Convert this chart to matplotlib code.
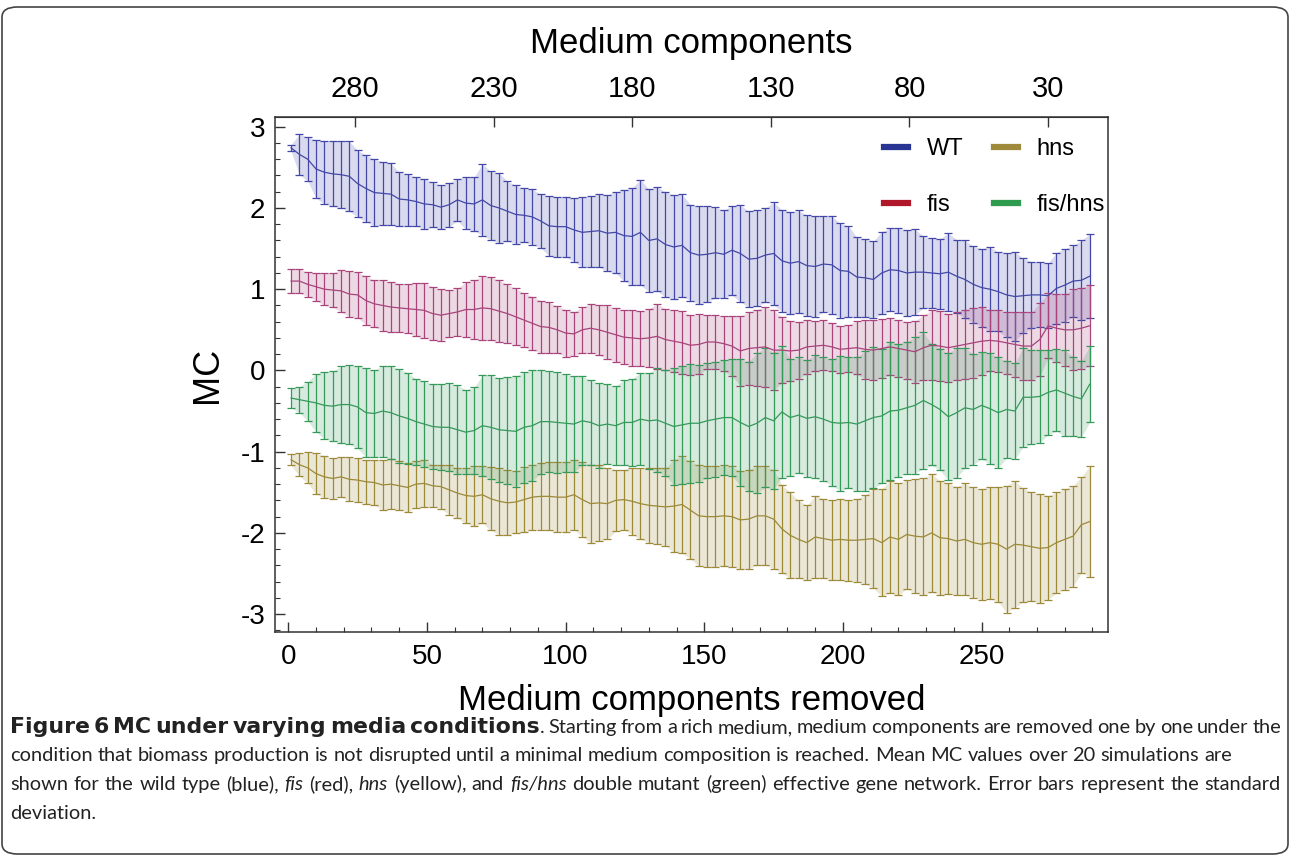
import matplotlib
matplotlib.use('Agg')
import matplotlib.pyplot as plt
from matplotlib.lines import Line2D
from matplotlib.patches import FancyBboxPatch
from matplotlib.ticker import MultipleLocator, NullLocator

plt.rcParams['font.family'] = ['Liberation Sans', 'DejaVu Sans']
plt.rcParams['axes.unicode_minus'] = False

# medium components removed (every third step)
removed = list(range(1, 290, 3))

wt_mean = [2.74, 2.66, 2.60, 2.48, 2.44, 2.42, 2.41, 2.39, 2.30, 2.24, 2.19, 2.18, 2.17, 2.11, 2.10, 2.08, 2.05,
           2.04, 2.01, 2.04, 2.10, 2.06, 2.05, 2.10, 2.03, 2.00, 1.96, 1.92, 1.91, 1.89, 1.84, 1.78, 1.77, 1.77,
           1.73, 1.70, 1.71, 1.72, 1.69, 1.70, 1.66, 1.65, 1.70, 1.60, 1.62, 1.55, 1.52, 1.54, 1.45, 1.42,
           1.43, 1.45, 1.43, 1.48, 1.44, 1.37, 1.38, 1.42, 1.44, 1.35, 1.32, 1.34, 1.29, 1.28, 1.31, 1.30, 1.23,
           1.22, 1.15, 1.14, 1.12, 1.20, 1.24, 1.23, 1.20, 1.21, 1.21, 1.20, 1.19, 1.21, 1.16, 1.12, 1.06, 1.02,
           1.00, 0.97, 0.93, 0.91, 0.92, 0.93, 0.93, 0.92, 1.01, 1.05, 1.10, 1.11, 1.16]
wt_std = [0.04, 0.25, 0.27, 0.36, 0.39, 0.40, 0.41, 0.43, 0.41, 0.41, 0.41, 0.39, 0.38, 0.33, 0.32, 0.30, 0.31,
          0.28, 0.27, 0.27, 0.26, 0.32, 0.33, 0.44, 0.42, 0.43, 0.37, 0.36, 0.33, 0.34, 0.33, 0.37, 0.37, 0.37,
          0.39, 0.43, 0.44, 0.45, 0.47, 0.50, 0.56, 0.60, 0.65, 0.63, 0.64, 0.65, 0.64, 0.63, 0.59, 0.60,
          0.59, 0.56, 0.54, 0.55, 0.60, 0.59, 0.59, 0.58, 0.63, 0.63, 0.63, 0.63, 0.62, 0.62, 0.59, 0.60, 0.58,
          0.56, 0.49, 0.48, 0.47, 0.51, 0.51, 0.52, 0.53, 0.53, 0.44, 0.43, 0.43, 0.48, 0.45, 0.48, 0.47, 0.48,
          0.52, 0.49, 0.52, 0.55, 0.46, 0.41, 0.40, 0.40, 0.44, 0.45, 0.44, 0.49, 0.52]

fis_mean = [1.10, 1.10, 1.06, 1.03, 1.00, 0.99, 0.98, 0.94, 0.93, 0.86, 0.82, 0.80, 0.78, 0.77, 0.76, 0.75, 0.74,
            0.70, 0.68, 0.70, 0.72, 0.75, 0.75, 0.77, 0.76, 0.73, 0.70, 0.66, 0.62, 0.58, 0.54, 0.53, 0.50, 0.46,
            0.45, 0.50, 0.52, 0.50, 0.47, 0.44, 0.41, 0.40, 0.39, 0.40, 0.42, 0.38, 0.36, 0.34, 0.31, 0.32,
            0.35, 0.35, 0.33, 0.30, 0.24, 0.27, 0.28, 0.29, 0.25, 0.25, 0.24, 0.25, 0.29, 0.30, 0.31, 0.29, 0.26,
            0.27, 0.28, 0.26, 0.25, 0.27, 0.29, 0.27, 0.25, 0.23, 0.28, 0.31, 0.30, 0.28, 0.30, 0.32, 0.34, 0.36,
            0.37, 0.36, 0.34, 0.32, 0.30, 0.30, 0.38, 0.55, 0.52, 0.50, 0.50, 0.52, 0.55]
fis_std = [0.15, 0.15, 0.15, 0.17, 0.20, 0.21, 0.26, 0.28, 0.28, 0.30, 0.29, 0.31, 0.31, 0.30, 0.30, 0.33, 0.34,
           0.33, 0.32, 0.29, 0.29, 0.34, 0.36, 0.39, 0.39, 0.38, 0.36, 0.35, 0.33, 0.33, 0.32, 0.31, 0.29, 0.29,
           0.27, 0.28, 0.30, 0.31, 0.33, 0.33, 0.33, 0.34, 0.34, 0.36, 0.40, 0.38, 0.38, 0.39, 0.37, 0.37,
           0.33, 0.33, 0.34, 0.37, 0.43, 0.45, 0.47, 0.49, 0.49, 0.41, 0.37, 0.35, 0.33, 0.31, 0.31, 0.30, 0.29,
           0.29, 0.33, 0.36, 0.37, 0.36, 0.35, 0.35, 0.35, 0.38, 0.40, 0.43, 0.43, 0.42, 0.42, 0.43, 0.43, 0.42,
           0.38, 0.38, 0.38, 0.40, 0.42, 0.42, 0.45, 0.40, 0.42, 0.44, 0.50, 0.50, 0.50]

hns_mean = [-1.10, -1.16, -1.20, -1.27, -1.31, -1.33, -1.31, -1.34, -1.35, -1.37, -1.38, -1.41, -1.40, -1.42, -1.44, -1.40, -1.39,
            -1.42, -1.43, -1.47, -1.51, -1.54, -1.55, -1.53, -1.58, -1.61, -1.63, -1.62, -1.59, -1.56, -1.55, -1.55, -1.56, -1.56,
            -1.53, -1.59, -1.64, -1.63, -1.64, -1.60, -1.59, -1.61, -1.64, -1.66, -1.67, -1.68, -1.67, -1.65, -1.72, -1.79,
            -1.80, -1.80, -1.79, -1.80, -1.84, -1.83, -1.79, -1.79, -1.83, -1.95, -2.03, -2.08, -2.12, -2.05, -2.07, -2.09, -2.08,
            -2.09, -2.09, -2.08, -2.07, -2.12, -2.05, -2.08, -2.02, -2.04, -2.05, -2.00, -2.06, -2.07, -2.10, -2.08, -2.12, -2.14,
            -2.12, -2.14, -2.20, -2.14, -2.15, -2.17, -2.19, -2.18, -2.12, -2.08, -2.04, -1.90, -1.86]
hns_std = [0.07, 0.14, 0.19, 0.25, 0.26, 0.25, 0.25, 0.27, 0.27, 0.27, 0.28, 0.31, 0.31, 0.30, 0.30, 0.29, 0.29,
           0.26, 0.27, 0.31, 0.31, 0.34, 0.37, 0.35, 0.39, 0.41, 0.40, 0.38, 0.40, 0.40, 0.41, 0.42, 0.43, 0.43,
           0.43, 0.46, 0.48, 0.47, 0.44, 0.38, 0.37, 0.41, 0.44, 0.46, 0.47, 0.48, 0.57, 0.60, 0.60, 0.62,
           0.62, 0.62, 0.62, 0.62, 0.60, 0.61, 0.61, 0.61, 0.61, 0.54, 0.53, 0.48, 0.46, 0.51, 0.49, 0.49, 0.50,
           0.50, 0.51, 0.55, 0.61, 0.66, 0.69, 0.69, 0.67, 0.70, 0.72, 0.73, 0.70, 0.68, 0.67, 0.69, 0.68, 0.68,
           0.69, 0.71, 0.78, 0.78, 0.70, 0.67, 0.67, 0.64, 0.62, 0.62, 0.62, 0.59, 0.68]

fishns_mean = [-0.34, -0.36, -0.38, -0.40, -0.43, -0.44, -0.42, -0.42, -0.45, -0.52, -0.53, -0.50, -0.52, -0.56, -0.59, -0.63, -0.66,
               -0.69, -0.70, -0.70, -0.73, -0.76, -0.74, -0.68, -0.70, -0.73, -0.74, -0.75, -0.70, -0.68, -0.63, -0.63, -0.64, -0.65,
               -0.66, -0.62, -0.64, -0.68, -0.66, -0.68, -0.64, -0.64, -0.60, -0.62, -0.61, -0.65, -0.69, -0.67, -0.65, -0.65,
               -0.62, -0.60, -0.58, -0.58, -0.64, -0.69, -0.65, -0.58, -0.62, -0.51, -0.58, -0.55, -0.59, -0.57, -0.60, -0.64, -0.65,
               -0.64, -0.66, -0.62, -0.58, -0.56, -0.50, -0.49, -0.46, -0.43, -0.37, -0.42, -0.48, -0.57, -0.52, -0.46, -0.48, -0.43,
               -0.47, -0.52, -0.48, -0.50, -0.33, -0.33, -0.32, -0.27, -0.24, -0.28, -0.32, -0.35, -0.17]
fishns_std = [0.12, 0.16, 0.24, 0.36, 0.41, 0.43, 0.47, 0.49, 0.51, 0.55, 0.53, 0.56, 0.57, 0.58, 0.56, 0.53, 0.53,
              0.52, 0.53, 0.54, 0.55, 0.52, 0.53, 0.62, 0.64, 0.64, 0.66, 0.68, 0.68, 0.68, 0.64, 0.62, 0.62, 0.60,
              0.59, 0.55, 0.52, 0.52, 0.49, 0.49, 0.52, 0.54, 0.57, 0.59, 0.64, 0.65, 0.72, 0.73, 0.73, 0.72,
              0.71, 0.71, 0.71, 0.72, 0.78, 0.80, 0.86, 0.86, 0.84, 0.81, 0.72, 0.71, 0.72, 0.76, 0.76, 0.78, 0.83,
              0.81, 0.82, 0.86, 0.87, 0.83, 0.85, 0.82, 0.81, 0.84, 0.84, 0.75, 0.75, 0.78, 0.80, 0.74, 0.68, 0.66,
              0.68, 0.68, 0.60, 0.59, 0.61, 0.58, 0.57, 0.52, 0.51, 0.53, 0.49, 0.47, 0.47]

labels = ['WT', 'fis', 'hns', 'fis/hns']
bar_colors = ['#4347a8', '#a8437c', '#9c8a38', '#35995a']
legend_colors = ['#283593', '#b0182a', '#9e8a3a', '#2e9b4f']
top_ticks = [280, 230, 180, 130, 80, 30]
n_components = 304

W, H = 1290, 856
fig = plt.figure(figsize=(W / 100, H / 100), dpi=100)
ax = fig.add_axes([275 / W, 1 - 632 / H, (1108 - 275) / W, (632 - 117) / H])

data = {'WT': (wt_mean, wt_std), 'fis': (fis_mean, fis_std),
        'hns': (hns_mean, hns_std), 'fis/hns': (fishns_mean, fishns_std)}
# drawing order: blue at the back, green on top
for name in ['WT', 'hns', 'fis', 'fis/hns']:
    mean, std = data[name]
    c = bar_colors[labels.index(name)]
    lo = [m - s for m, s in zip(mean, std)]
    hi = [m + s for m, s in zip(mean, std)]
    ax.fill_between(removed, lo, hi, color=c, alpha=0.2, lw=0)
    ax.errorbar(removed, mean, yerr=std, fmt='-', color=c, lw=0.9,
                elinewidth=0.9, capsize=3, capthick=0.9)

ax.set_xlim(-4.8, 295.6)
ax.set_ylim(-3.22, 3.12)
ax.set_xticks([0, 50, 100, 150, 200, 250])
ax.xaxis.set_minor_locator(MultipleLocator(10))
ax.set_yticks([3, 2, 1, 0, -1, -2, -3])
ax.yaxis.set_minor_locator(MultipleLocator(0.2))
ax.tick_params(which='both', direction='in', top=False, right=False, color='#333333')
ax.tick_params(which='major', length=7, width=1)
ax.tick_params(which='minor', length=3.5, width=0.8)
ax.tick_params(axis='x', pad=9, labelsize=20)
ax.tick_params(axis='y', pad=7, labelsize=20)
for sp in ax.spines.values():
    sp.set_color('#333333')
    sp.set_linewidth(1.1)
ax.set_xlabel('Medium components removed', fontsize=25, labelpad=10)
ax.set_ylabel('MC', fontsize=26, labelpad=11)

sec = ax.secondary_xaxis('top', functions=(lambda v: n_components - v, lambda v: n_components - v))
sec.set_xticks(top_ticks)
sec.xaxis.set_minor_locator(NullLocator())
sec.tick_params(direction='in', length=7, width=1, labelsize=21, pad=10, color='#333333')
sec.spines['top'].set_color('#333333')
sec.set_xlabel('Medium components', fontsize=25, labelpad=16)

handles = [Line2D([], [], color=c, lw=4.5) for c in legend_colors]
ax.legend(handles, labels, ncol=2, loc='upper right', bbox_to_anchor=(1.022, 1.0),
          frameon=False, fontsize=17, handlelength=1.0, handletextpad=0.8,
          columnspacing=1.3, labelspacing=1.45)

# frame around the figure
fig.patches.append(FancyBboxPatch((2 / W, 2 / H), 1 - 4 / W, 1 - 9 / H,
                                  boxstyle='round,pad=0,rounding_size=0.012',
                                  transform=fig.transFigure, fill=False,
                                  ec='#444444', lw=1.2))

# caption
cap_lines = [
    ([('Figure 6 MC under varying media conditions', 'bold', 'normal'),
      ('. Starting from a rich medium, medium components are removed one by one under the', 'normal', 'normal')], True),
    ([('condition that biomass production is not disrupted until a minimal medium composition '
       'is reached. Mean MC values over 20 simulations are', 'normal', 'normal')], False),
    ([('shown for the wild type (blue), ', 'normal', 'normal'), ('fis', 'normal', 'italic'),
      (' (red), ', 'normal', 'normal'), ('hns', 'normal', 'italic'),
      (' (yellow), and ', 'normal', 'normal'), ('fis/hns', 'normal', 'italic'),
      (' double mutant (green) effective gene network. Error bars represent the standard', 'normal', 'normal')], True),
    ([('deviation.', 'normal', 'normal')], False),
]
cap_base = [733, 761, 790, 819]
renderer = fig.canvas.get_renderer()


def split_words(runs):
    words = []
    new = True
    for text, weight, style in runs:
        for i, p in enumerate(text.split(' ')):
            if i > 0:
                new = True
            if p:
                if new or not words:
                    words.append([])
                words[-1].append((p, weight, style))
                new = False
    return words


def make_text(p, ybase, fs, weight, style):
    if weight == 'bold':
        return fig.text(0, 1 - ybase / H, p, fontsize=fs * bold_scale, fontweight='bold',
                        family=['DejaVu Sans'], ha='left', va='baseline', color='#222222')
    return fig.text(0, 1 - ybase / H, p, fontsize=fs, fontstyle=style,
                    family=['Lato', 'DejaVu Sans'], ha='left', va='baseline', color='#222222')


def place_line(runs, ybase, fs, justify, x0=10, x1=1281):
    words = split_words(runs)
    objs = []
    widths = []
    for w in words:
        pieces = []
        tot = 0
        for p, weight, style in w:
            t = make_text(p, ybase, fs, weight, style)
            wd = t.get_window_extent(renderer).width
            pieces.append((t, wd))
            tot += wd
        objs.append(pieces)
        widths.append(tot)
    space = 0.25 * fs * 100 / 72
    if justify and len(words) > 1:
        space = (x1 - x0 - sum(widths)) / (len(words) - 1)
    x = x0
    for pieces, wd in zip(objs, widths):
        for t, pw in pieces:
            t.set_x(x / W)
            x += pw
        x += space
    return x - space - x0, objs


def clear(objs):
    for pieces in objs:
        for t, _ in pieces:
            t.remove()


# fit the font size so the ragged second line ends where it does in the figure
bold_scale = 1.0
natural, tmp = place_line(cap_lines[1][0], cap_base[1], 12, False)
clear(tmp)
cap_fs = 12 * 1216 / natural
# the bold lead-in is set wide in the figure
bold_w, tmp = place_line(cap_lines[0][0][:1], cap_base[0], cap_fs, False)
clear(tmp)
bold_scale = min(1.1, max(0.85, 545 / bold_w))

for (runs, just), yb in zip(cap_lines, cap_base):
    place_line(runs, yb, cap_fs, just)

fig.savefig('out.png', dpi=100)
